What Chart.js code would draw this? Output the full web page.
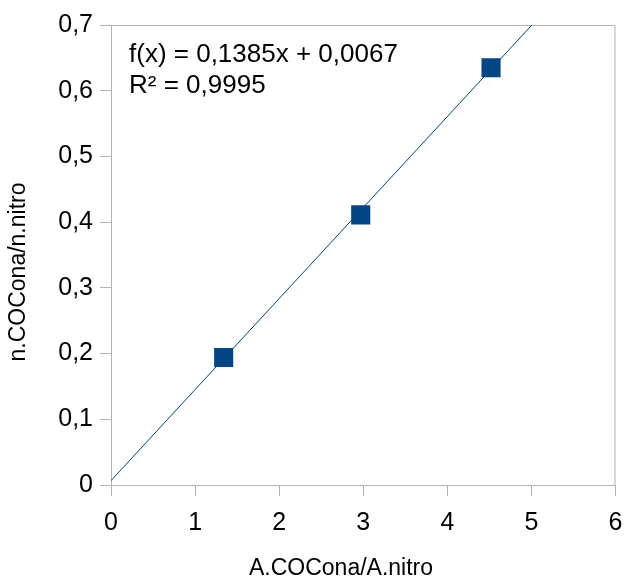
<!DOCTYPE html>
<html>
<head>
<meta charset="utf-8">
<script src="https://cdn.jsdelivr.net/npm/chart.js@4.4.0/dist/chart.umd.min.js"></script>
<style>
  html, body { margin: 0; padding: 0; background: #fff; }
  #wrap { width: 629px; height: 583px; }
</style>
</head>
<body>
<div id="wrap"><canvas id="chart" width="629" height="583"></canvas></div>
<script>
// === Data ===
const ratioArea = [1.34, 2.97, 4.52];
const ratioMol = [0.194, 0.411, 0.635];

// trend line end points (f(x) = 0,1385x + 0,0067)
const trendX = [0, 6];
const trendY = [0.0067, 0.8377];

const equationText = 'f(x) = 0,1385x + 0,0067';
const r2Text = 'R² = 0,9995';
const xTitle = 'A.COCona/A.nitro';
const yTitle = 'n.COCona/n.nitro';

const xTicks = [0, 1, 2, 3, 4, 5, 6];
const yTicks = [0, 0.1, 0.2, 0.3, 0.4, 0.5, 0.6, 0.7];

const blue = '#004586';
const gray = '#b3b3b3';
const fontFam = '"Liberation Sans", Arial, sans-serif';

// frame on top / right, equation text, axis titles
const framePlugin = {
  id: 'frame',
  beforeDatasetsDraw(chart) {
    const { ctx, chartArea: a } = chart;
    ctx.save();
    ctx.strokeStyle = gray;
    ctx.lineWidth = 1;
    ctx.beginPath();
    ctx.moveTo(a.left, a.top + 0.5);
    ctx.lineTo(a.right - 0.5, a.top + 0.5);
    ctx.lineTo(a.right - 0.5, a.bottom);
    ctx.stroke();
    ctx.restore();
  },
  afterDraw(chart) {
    const { ctx, chartArea: a } = chart;
    ctx.save();
    ctx.fillStyle = '#000';
    ctx.font = '26px ' + fontFam;
    ctx.textBaseline = 'alphabetic';
    ctx.textAlign = 'left';
    ctx.fillText(equationText, a.left + 18, a.top + 37);
    ctx.fillText(r2Text, a.left + 18, a.top + 68);

    ctx.font = '23px ' + fontFam;
    ctx.textAlign = 'center';
    ctx.textBaseline = 'middle';
    ctx.fillText(xTitle, 341, 569);
    ctx.translate(19, 272);
    ctx.rotate(-Math.PI / 2);
    ctx.fillText(yTitle, 0, 0);
    ctx.restore();
  }
};

const ctx = document.getElementById('chart').getContext('2d');
new Chart(ctx, {
  type: 'scatter',
  data: {
    datasets: [
      {
        label: 'points',
        data: ratioArea.map((x, i) => ({ x, y: ratioMol[i] })),
        pointStyle: 'rect',
        pointRadius: 13.5,
        backgroundColor: blue,
        borderColor: blue,
        borderWidth: 0,
        order: 0
      },
      {
        label: 'trend',
        data: trendX.map((x, i) => ({ x, y: trendY[i] })),
        showLine: true,
        pointRadius: 0,
        borderColor: blue,
        borderWidth: 1,
        order: 1
      }
    ]
  },
  options: {
    responsive: false,
    animation: false,
    layout: { padding: { top: 25, right: 11, left: 0, bottom: 0 } },
    plugins: { legend: { display: false }, tooltip: { enabled: false } },
    scales: {
      x: {
        type: 'linear',
        min: 0, max: 6,
        afterBuildTicks: s => { s.ticks = xTicks.map(v => ({ value: v })); },
        afterFit: s => { s.height = 98; s.paddingLeft = 0; s.paddingRight = 0; },
        grid: { drawOnChartArea: false, drawTicks: true, tickLength: 11, color: gray },
        border: { color: gray },
        // tall line height pushes the labels down without widening side padding
        ticks: { color: '#000', font: { family: fontFam, size: 25, lineHeight: 2.16 }, padding: 0 },
        title: { display: false }
      },
      y: {
        type: 'linear',
        min: 0, max: 0.7,
        afterBuildTicks: s => { s.ticks = yTicks.map(v => ({ value: v })); },
        afterFit: s => { s.width = 111; s.paddingTop = 0; s.paddingBottom = 0; },
        grid: { drawOnChartArea: false, drawTicks: true, tickLength: 11, color: gray },
        border: { color: gray },
        ticks: { color: '#000', font: { family: fontFam, size: 25 }, padding: 7,
                 callback: v => String(Math.round(v * 10) / 10).replace('.', ',') },
        title: { display: false }
      }
    }
  },
  plugins: [framePlugin]
});
</script>
</body>
</html>
